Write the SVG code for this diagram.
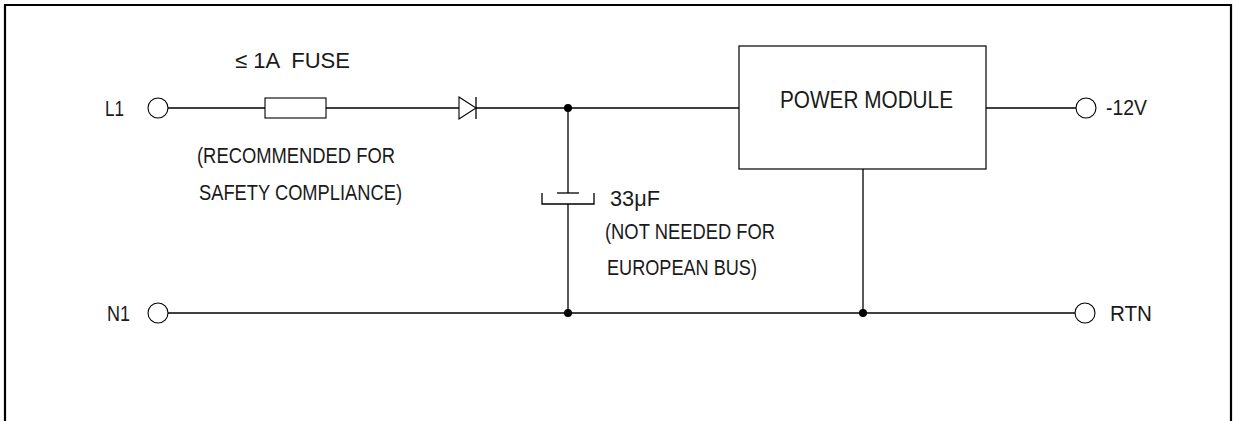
<svg xmlns="http://www.w3.org/2000/svg" width="1233" height="421" viewBox="0 0 1233 421">
<style>
  .w{stroke:#000;stroke-width:1.3;fill:none}
  .t{font-family:"Liberation Sans Narrow","Liberation Sans",Arial,sans-serif;font-size:22px;fill:#1a1a1a}
  .term{stroke:#000;stroke-width:1.1;fill:#fff}
  .dot{fill:#000}
</style>
<rect x="0" y="0" width="1233" height="421" fill="#fff"/>
<g id="frame">
  <path d="M5,421 V5 H1231 V421" fill="none" stroke="#000" stroke-width="2.2"/>
</g>
<g id="connectors">
  <path class="w" d="M168,108 H265 M326,108 H459 M476,108 H739"/>
  <path class="w" d="M986,108 H1076"/>
  <path class="w" d="M568,108 V193 M568,204 V313"/>
  <path class="w" d="M168,313 H1075"/>
  <path class="w" d="M863,169 V313"/>
</g>
<g id="L1">
  <circle class="term" cx="158" cy="108" r="10"/>
  <text class="t" x="105" y="116" textLength="19" lengthAdjust="spacingAndGlyphs">L1</text>
</g>
<g id="N1">
  <circle class="term" cx="158" cy="313" r="10"/>
  <text class="t" x="107" y="321" textLength="23" lengthAdjust="spacingAndGlyphs">N1</text>
</g>
<g id="fuse">
  <rect x="265" y="98" width="61" height="20" fill="#fff" stroke="#000" stroke-width="1.1"/>
  <text class="t" x="235" y="68" textLength="115" lengthAdjust="spacingAndGlyphs" xml:space="preserve">≤ 1A  FUSE</text>
  <text class="t" x="197" y="163" textLength="198" lengthAdjust="spacingAndGlyphs">(RECOMMENDED FOR</text>
  <text class="t" x="199" y="200" textLength="203" lengthAdjust="spacingAndGlyphs">SAFETY COMPLIANCE)</text>
</g>
<g id="diode">
  <path d="M459,97 L476,108 L459,119 Z" fill="#fff" stroke="#000" stroke-width="1.1"/>
  <path d="M476,97 V119" stroke="#000" stroke-width="1.3"/>
</g>
<g id="junctions">
  <circle class="dot" cx="568" cy="108" r="4"/>
  <circle class="dot" cx="568" cy="313" r="4"/>
  <circle class="dot" cx="863" cy="313" r="4"/>
</g>
<g id="capacitor">
  <path class="w" d="M557,193 H579"/>
  <path class="w" d="M542,193 V204 H594 V193"/>
  <text class="t" x="610" y="206" textLength="50" lengthAdjust="spacingAndGlyphs">33μF</text>
  <text class="t" x="605" y="239" textLength="170" lengthAdjust="spacingAndGlyphs">(NOT NEEDED FOR</text>
  <text class="t" x="607" y="275" textLength="150" lengthAdjust="spacingAndGlyphs">EUROPEAN BUS)</text>
</g>
<g id="power-module">
  <rect x="739" y="46" width="247" height="123" fill="none" stroke="#000" stroke-width="1.2"/>
  <text class="t" x="780" y="108" textLength="173" lengthAdjust="spacingAndGlyphs" style="font-size:24px">POWER MODULE</text>
</g>
<g id="out-12v">
  <circle class="term" cx="1086" cy="108" r="10"/>
  <text class="t" x="1106" y="115" textLength="41" lengthAdjust="spacingAndGlyphs">-12V</text>
</g>
<g id="rtn">
  <circle class="term" cx="1085" cy="313" r="10"/>
  <text class="t" x="1110" y="321" textLength="42" lengthAdjust="spacingAndGlyphs">RTN</text>
</g>
</svg>
